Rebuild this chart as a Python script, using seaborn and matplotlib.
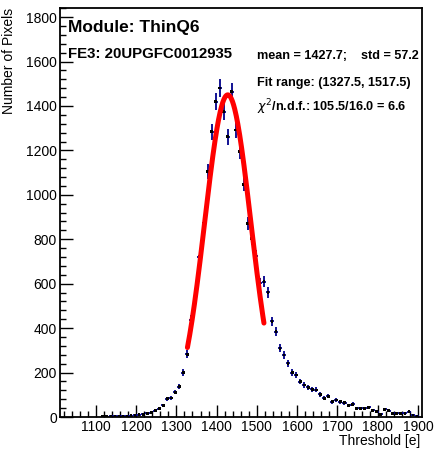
import matplotlib
matplotlib.use('Agg')
import matplotlib.pyplot as plt
import matplotlib.ticker as ticker
import seaborn as sns
import numpy as np
import pandas as pd

# histogram: bin centres (10 e wide) and counts
bin_centres = np.arange(1117.5, 1900.0, 10.0)
counts = [2, 2, 3, 3, 4, 5, 5, 6, 8, 10,
          13, 16, 20, 29, 37, 52, 82, 86, 112, 137,
          200, 283, 437, 519, 721, 872, 1104, 1284, 1419, 1481,
          1374, 1261, 1464, 1292, 1196, 1048, 872, 804, 725, 602,
          609, 561, 431, 384, 309, 279, 241, 200, 189, 159,
          144, 133, 124, 122, 102, 84, 94, 69, 77, 69,
          64, 52, 58, 40, 40, 40, 43, 31, 24, 13,
          35, 28, 16, 16, 16, 16, 24, 9, 3]

# gaussian fit shown on the plot
fit_mean = 1427.7
fit_std = 57.2
fit_amp = 1450.0
fit_range = (1327.5, 1517.5)
chi2, ndf = 105.5, 16.0

module_name = "ThinQ6"
fe_name = "FE3: 20UPGFC0012935"

df = pd.DataFrame({'threshold': bin_centres, 'pixels': counts})
df['err'] = np.sqrt(df['pixels'])

xf = np.linspace(fit_range[0], fit_range[1], 200)
fit_df = pd.DataFrame({'threshold': xf,
                       'pixels': fit_amp * np.exp(-(xf - fit_mean) ** 2 / (2 * fit_std ** 2))})

sns.set_style('white')
plt.rcParams['font.family'] = ['Liberation Sans', 'DejaVu Sans']
plt.rcParams['text.color'] = 'black'
plt.rcParams['xtick.labelcolor'] = 'black'
plt.rcParams['ytick.labelcolor'] = 'black'

fig = plt.figure(figsize=(4.38, 4.55), dpi=100)
ax = fig.add_axes([0.136, 0.0835, 0.8275, 0.8985])

# error bars like ROOT's "E" option
ax.errorbar(df['threshold'], df['pixels'], yerr=df['err'], xerr=5,
            fmt='none', ecolor='#00008b', elinewidth=1.3, capsize=0, zorder=2)
sns.scatterplot(data=df, x='threshold', y='pixels', ax=ax, color='black',
                s=4, marker='s', edgecolor='none', zorder=3)
sns.lineplot(data=fit_df, x='threshold', y='pixels', ax=ax, color='red',
             linewidth=3.6, zorder=4)

ax.set_xlim(1010, 1910)
ax.set_ylim(0, 1840)
ax.xaxis.set_major_locator(ticker.MultipleLocator(100))
ax.xaxis.set_minor_locator(ticker.MultipleLocator(20))
ax.yaxis.set_major_locator(ticker.MultipleLocator(200))
ax.yaxis.set_minor_locator(ticker.MultipleLocator(40))
ax.tick_params(which='both', direction='in', bottom=True, left=True,
               top=False, right=False, width=1.0, color='black',
               labelcolor='black', labelsize=10)
ax.tick_params(which='major', length=9)
ax.tick_params(which='minor', length=4.5)
ax.tick_params(axis='x', which='both', pad=2)
ax.tick_params(axis='y', which='both', pad=2)
for s in ax.spines.values():
    s.set_linewidth(1.3)
    s.set_color('black')

ax.set_xlabel('')
ax.set_ylabel('')
fig.text(0.959, 0.031, 'Threshold [e]', ha='right', va='center', fontsize=10, color='black')
fig.text(0.02, 0.983, 'Number of Pixels', ha='center', va='top', rotation=90,
         fontsize=10, color='black')

ax.text(0.024, 0.953, 'Module: ' + module_name, transform=ax.transAxes,
        fontsize=12.5, fontweight='bold', va='center', ha='left', color='black')
ax.text(0.024, 0.888, fe_name, transform=ax.transAxes,
        fontsize=10.8, fontweight='bold', va='center', ha='left', color='black')
ax.text(0.545, 0.883, 'mean = %.1f;    std = %.1f' % (fit_mean, fit_std),
        transform=ax.transAxes, fontsize=9.1, fontweight='bold', va='center', ha='left',
        color='black')
ax.text(0.545, 0.818, 'Fit range: (%.1f, %.1f)' % fit_range,
        transform=ax.transAxes, fontsize=9.1, fontweight='bold', va='center', ha='left',
        color='black')
ax.text(0.545, 0.758, r'$\chi^{2}$/n.d.f.: %.1f/%.1f = %.1f' % (chi2, ndf, chi2 / ndf),
        transform=ax.transAxes, fontsize=9.1, fontweight='bold', va='center', ha='left',
        color='black')

fig.savefig('out.png', dpi=100)
